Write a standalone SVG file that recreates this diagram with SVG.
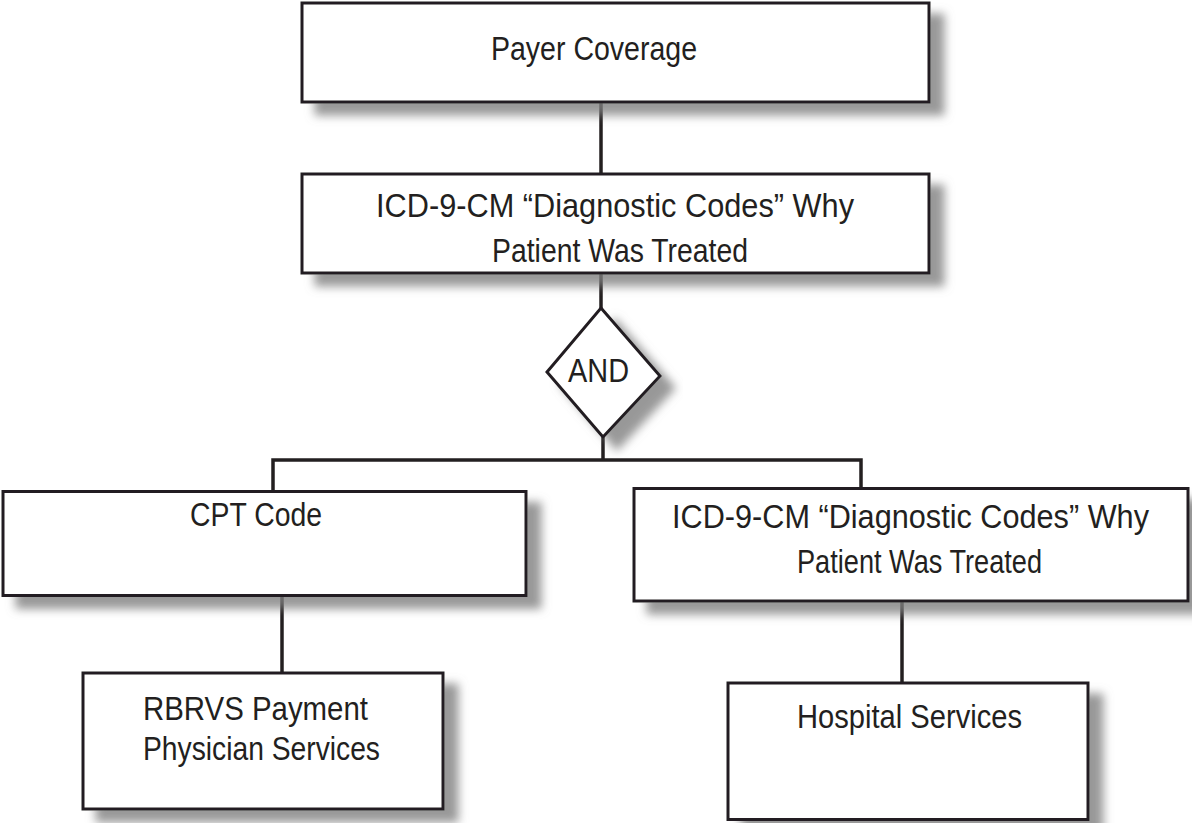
<svg xmlns="http://www.w3.org/2000/svg" width="1192" height="823" viewBox="0 0 1192 823">
<defs>
<filter id="sh" x="-10%" y="-20%" width="130%" height="160%">
<feGaussianBlur in="SourceAlpha" stdDeviation="5"/>
<feOffset dx="14" dy="12" result="b"/>
<feFlood flood-color="#7f7f7f" flood-opacity="0.8"/>
<feComposite in2="b" operator="in" result="s"/>
<feMerge><feMergeNode in="s"/><feMergeNode in="SourceGraphic"/></feMerge>
</filter>
<style>
.box{fill:#fff;stroke:#231f20;stroke-width:3;filter:url(#sh)}
.t{font-family:"Liberation Sans",Arial,sans-serif;font-size:34px;fill:#231f20;text-anchor:middle}
.c{fill:none;stroke:#231f20;stroke-width:3.5}
</style>
</defs>
<rect width="1192" height="823" fill="#fff"/>
<g id="connectors">
<path class="c" d="M601 102 V174"/>
<path class="c" d="M601 273 V308"/>
<path class="c" d="M603 437 V460"/>
<path class="c" d="M273 491 V460 H861 V489"/>
<path class="c" d="M282 595 V673"/>
<path class="c" d="M902 601 V683"/>
</g>
<g id="payer">
<rect class="box" x="302" y="3" width="627" height="99"/>
<text class="t" x="594" y="60" textLength="206" lengthAdjust="spacingAndGlyphs">Payer Coverage</text>
</g>
<g id="icd-top">
<rect class="box" x="302" y="174" width="627" height="99"/>
<text class="t" x="615" y="217" textLength="478" lengthAdjust="spacingAndGlyphs">ICD-9-CM “Diagnostic Codes” Why</text>
<text class="t" x="620" y="262" textLength="256" lengthAdjust="spacingAndGlyphs">Patient Was Treated</text>
</g>
<g id="and">
<polygon class="box" points="601,308 660,376 603,437 547,372"/>
<text class="t" x="598.5" y="382" textLength="61" lengthAdjust="spacingAndGlyphs">AND</text>
</g>
<g id="cpt">
<rect class="box" x="3" y="491.5" width="523" height="104"/>
<text class="t" x="256" y="526" textLength="132" lengthAdjust="spacingAndGlyphs">CPT Code</text>
</g>
<g id="icd-right">
<rect class="box" x="634" y="488.5" width="554" height="112.5"/>
<text class="t" x="910.5" y="528" textLength="477" lengthAdjust="spacingAndGlyphs">ICD-9-CM “Diagnostic Codes” Why</text>
<text class="t" x="919.5" y="573" textLength="245" lengthAdjust="spacingAndGlyphs">Patient Was Treated</text>
</g>
<g id="rbrvs">
<rect class="box" x="83" y="673" width="360" height="136"/>
<text class="t" x="255.5" y="720" textLength="225" lengthAdjust="spacingAndGlyphs">RBRVS Payment</text>
<text class="t" x="261.5" y="760" textLength="237" lengthAdjust="spacingAndGlyphs">Physician Services</text>
</g>
<g id="hospital">
<rect class="box" x="728" y="683" width="360" height="136.5"/>
<text class="t" x="909.5" y="728" textLength="225" lengthAdjust="spacingAndGlyphs">Hospital Services</text>
</g>
</svg>
